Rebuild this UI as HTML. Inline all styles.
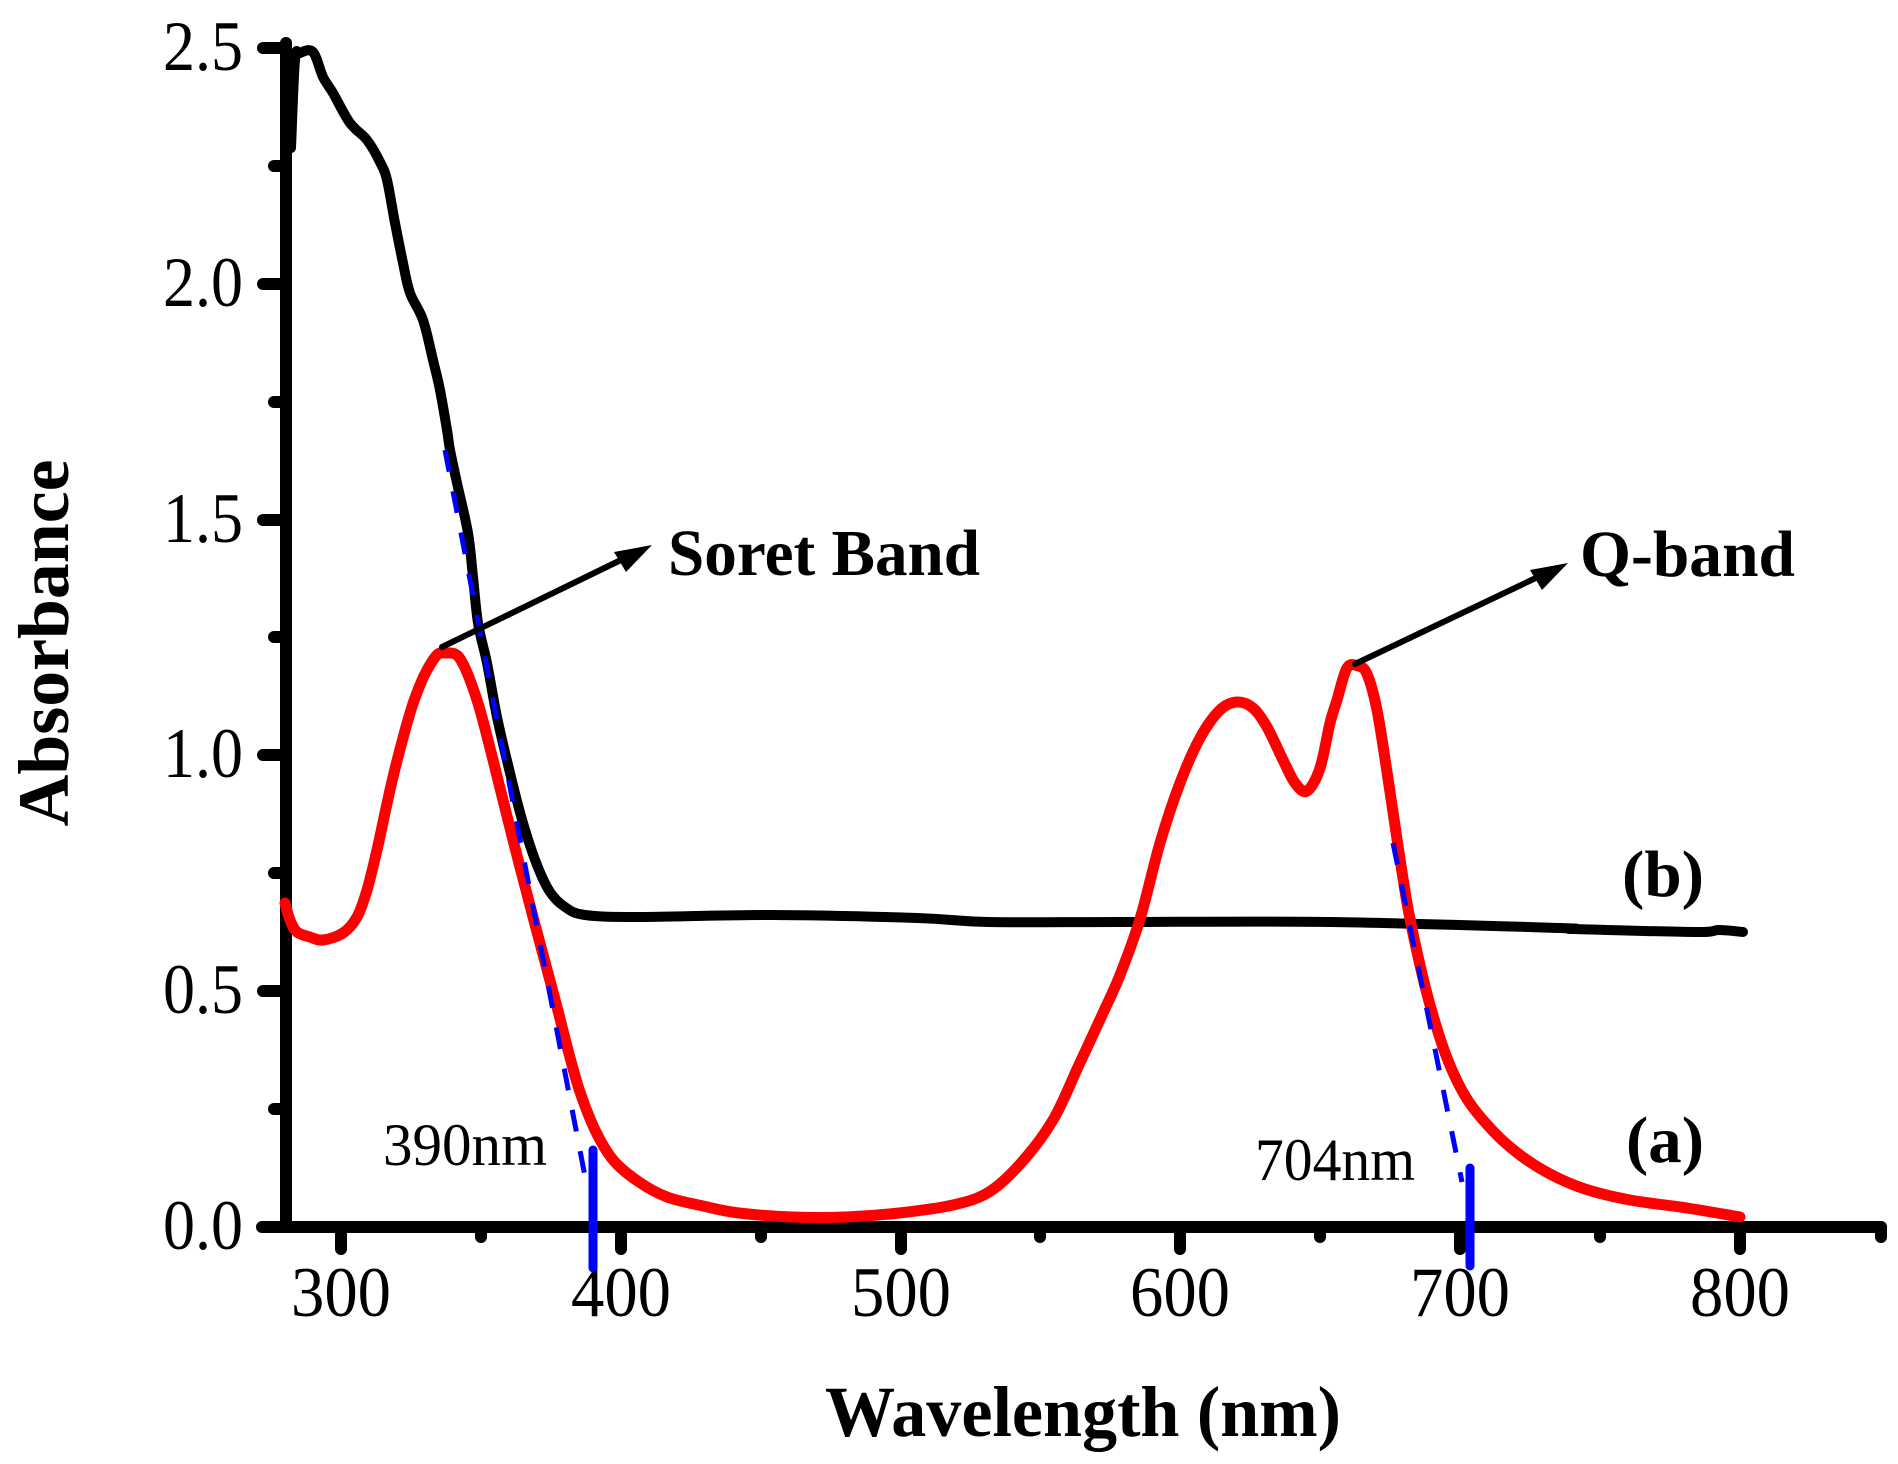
<!DOCTYPE html>
<html>
<head>
<meta charset="utf-8">
<style>
html,body{margin:0;padding:0;background:#fff;}
svg{display:block;}
text{font-family:"Liberation Serif","Times New Roman",serif;fill:#000;}
.b{font-weight:bold;}
</style>
</head>
<body>
<svg width="1898" height="1464" viewBox="0 0 1898 1464" xmlns="http://www.w3.org/2000/svg">
<rect width="1898" height="1464" fill="#fff"/>

<!-- Axes -->
<g stroke="#000" stroke-width="12" stroke-linecap="round" fill="none">
  <line x1="286" y1="43" x2="286" y2="1227"/>
  <line x1="262" y1="1227" x2="1881" y2="1227"/>
  <line x1="286" y1="48" x2="263" y2="48"/>
  <line x1="286" y1="284" x2="263" y2="284"/>
  <line x1="286" y1="520" x2="263" y2="520"/>
  <line x1="286" y1="755" x2="263" y2="755"/>
  <line x1="286" y1="991" x2="263" y2="991"/>
  <line x1="286" y1="166" x2="274" y2="166"/>
  <line x1="286" y1="402" x2="274" y2="402"/>
  <line x1="286" y1="637" x2="274" y2="637"/>
  <line x1="286" y1="873" x2="274" y2="873"/>
  <line x1="286" y1="1109" x2="274" y2="1109"/>
  <line x1="341" y1="1227" x2="341" y2="1249"/>
  <line x1="621" y1="1227" x2="621" y2="1249"/>
  <line x1="901" y1="1227" x2="901" y2="1249"/>
  <line x1="1180" y1="1227" x2="1180" y2="1249"/>
  <line x1="1460" y1="1227" x2="1460" y2="1249"/>
  <line x1="1740" y1="1227" x2="1740" y2="1249"/>
  <line x1="481" y1="1227" x2="481" y2="1237"/>
  <line x1="761" y1="1227" x2="761" y2="1237"/>
  <line x1="1040" y1="1227" x2="1040" y2="1237"/>
  <line x1="1320" y1="1227" x2="1320" y2="1237"/>
  <line x1="1600" y1="1227" x2="1600" y2="1237"/>
  <line x1="1881" y1="1227" x2="1881" y2="1237"/>
</g>

<!-- Tick labels -->
<g font-size="71">
  <text x="341" y="1316" text-anchor="middle" textLength="100" lengthAdjust="spacingAndGlyphs">300</text>
  <text x="621" y="1316" text-anchor="middle" textLength="100" lengthAdjust="spacingAndGlyphs">400</text>
  <text x="901" y="1316" text-anchor="middle" textLength="100" lengthAdjust="spacingAndGlyphs">500</text>
  <text x="1180" y="1316" text-anchor="middle" textLength="100" lengthAdjust="spacingAndGlyphs">600</text>
  <text x="1460" y="1316" text-anchor="middle" textLength="100" lengthAdjust="spacingAndGlyphs">700</text>
  <text x="1740" y="1316" text-anchor="middle" textLength="100" lengthAdjust="spacingAndGlyphs">800</text>

  <text x="163" y="70" textLength="80" lengthAdjust="spacingAndGlyphs">2.5</text>
  <text x="163" y="306" textLength="80" lengthAdjust="spacingAndGlyphs">2.0</text>
  <text x="163" y="542" textLength="80" lengthAdjust="spacingAndGlyphs">1.5</text>
  <text x="163" y="777" textLength="80" lengthAdjust="spacingAndGlyphs">1.0</text>
  <text x="163" y="1013" textLength="80" lengthAdjust="spacingAndGlyphs">0.5</text>
  <text x="163" y="1249" textLength="80" lengthAdjust="spacingAndGlyphs">0.0</text>
</g>

<!-- Axis titles -->
<text class="b" x="825" y="1436" font-size="72" textLength="516" lengthAdjust="spacingAndGlyphs">Wavelength (nm)</text>
<text class="b" transform="translate(68,643) rotate(-90)" x="0" y="0" font-size="72" text-anchor="middle" textLength="367" lengthAdjust="spacingAndGlyphs">Absorbance</text>

<!-- Curve (b) black -->
<polyline id="cb" fill="none" stroke="#000" stroke-width="10" stroke-linejoin="round" stroke-linecap="round"
points="291,148 295,60 300,53 313,52 323,77 333,93 350,123 367,140 380,162 387,180 395,223 403,263 410,293 423,320 433,360 440,390 447,430 450,450 457,483 468,533 473,577 478,623 487,663 497,717 510,773 523,823 537,865 550,892 565,907 585,915 640,917 771,915 917,918 989,922 1120,922 1331,922 1560,928 1574,929 1695,932 1719,930 1743,932"/>

<!-- Curve (a) red -->
<polyline id="ca" fill="none" stroke="#ff0000" stroke-width="11" stroke-linejoin="round" stroke-linecap="round"
points="285,903 290,920 297,932 310,937 323,940 343,933 357,917 367,890 377,850 393,777 410,713 420,685 427,670 437,655 443,653 455,654 462,662 470,680 480,710 493,760 513,840 533,917 545,962 557,1007 568,1050 580,1092 596,1132 614,1161 639,1182 667,1197 703,1206 739,1213 792,1217 846,1217 899,1213 953,1205 989,1192 1021,1163 1053,1120 1078,1067 1103,1013 1120,975 1140,919 1160,843 1180,783 1200,738 1220,710 1237,702 1253,708 1267,727 1283,760 1295,783 1307,791 1320,768 1330,723 1337,700 1347,668 1358,666 1367,674 1377,710 1387,772 1397,839 1407,903 1417,952 1430,1005 1447,1058 1467,1099 1493,1131 1520,1155 1550,1174 1585,1189 1630,1200 1687,1208 1740,1217"/>

<!-- Blue tangent lines -->
<g stroke="#0000ff" fill="none">
  <line x1="445" y1="450" x2="588" y2="1192" stroke-width="5" stroke-dasharray="22 20"/>
  <line x1="1393" y1="843" x2="1462" y2="1182" stroke-width="5" stroke-dasharray="22 20"/>
  <line x1="593" y1="1150" x2="593" y2="1268" stroke-width="9" stroke-linecap="round"/>
  <line x1="1470" y1="1168" x2="1470" y2="1266" stroke-width="9" stroke-linecap="round"/>
</g>

<!-- Arrows -->
<g stroke="#000" stroke-width="6" stroke-linecap="round">
  <line x1="442" y1="647" x2="625" y2="558"/>
  <line x1="1355" y1="664" x2="1540" y2="576"/>
</g>
<polygon points="652,545 614,552 626,572" fill="#000"/>
<polygon points="1568,563 1530,570 1542,590" fill="#000"/>

<!-- Annotations -->
<text class="b" x="668" y="575" font-size="66" textLength="312" lengthAdjust="spacingAndGlyphs">Soret Band</text>
<text class="b" x="1580" y="576" font-size="66" textLength="215" lengthAdjust="spacingAndGlyphs">Q-band</text>
<text class="b" x="1622" y="896" font-size="66" textLength="82" lengthAdjust="spacingAndGlyphs">(b)</text>
<text class="b" x="1626" y="1162" font-size="66" textLength="78" lengthAdjust="spacingAndGlyphs">(a)</text>
<text x="383" y="1165" font-size="60" textLength="164" lengthAdjust="spacingAndGlyphs">390nm</text>
<text x="1255" y="1180" font-size="60" textLength="160" lengthAdjust="spacingAndGlyphs">704nm</text>
</svg>
<script>
(function(){
  var NS="http://www.w3.org/2000/svg";
  ["cb","ca"].forEach(function(id){
    var pl=document.getElementById(id);
    if(!pl) return;
    var raw=pl.getAttribute("points").trim().split(/\s+/).map(function(s){var a=s.split(",");return [parseFloat(a[0]),parseFloat(a[1])];});
    var n=raw.length, d="M"+raw[0][0]+","+raw[0][1];
    for(var i=0;i<n-1;i++){
      var p0=raw[i-1]||raw[i], p1=raw[i], p2=raw[i+1], p3=raw[i+2]||raw[i+1];
      var t=1/6;
      var c1x=p1[0]+(p2[0]-p0[0])*t, c1y=p1[1]+(p2[1]-p0[1])*t;
      var c2x=p2[0]-(p3[0]-p1[0])*t, c2y=p2[1]-(p3[1]-p1[1])*t;
      d+=" C"+c1x.toFixed(1)+","+c1y.toFixed(1)+" "+c2x.toFixed(1)+","+c2y.toFixed(1)+" "+p2[0]+","+p2[1];
    }
    var path=document.createElementNS(NS,"path");
    path.setAttribute("d",d);
    ["fill","stroke","stroke-width","stroke-linejoin","stroke-linecap"].forEach(function(a){path.setAttribute(a,pl.getAttribute(a));});
    pl.parentNode.replaceChild(path,pl);
  });
})();
</script>
</body>
</html>
